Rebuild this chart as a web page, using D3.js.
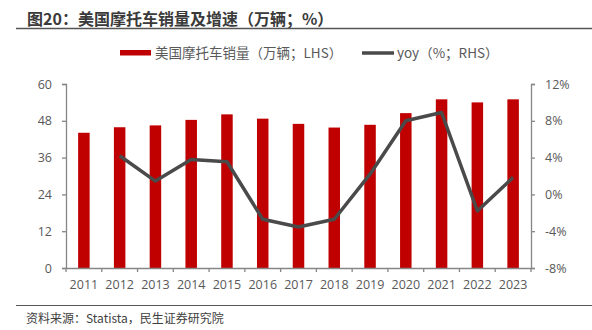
<!DOCTYPE html>
<html lang="zh">
<head>
<meta charset="UTF-8">
<title>美国摩托车销量及增速</title>
<script src="https://d3js.org/d3.v7.min.js"></script>
<style>
  body { margin: 0; background: #fff; }
  svg text { font-family: "Noto Sans CJK SC", "Open Sans", sans-serif; }
</style>
</head>
<body>
<div id="chart"></div>
<script>
// years, sales (10k units) and year-over-year growth (%)
const years = ["2011", "2012", "2013", "2014", "2015", "2016", "2017", "2018", "2019", "2020", "2021", "2022", "2023"];
const sales = [44.1, 45.9, 46.5, 48.3, 50.1, 48.7, 47.0, 45.8, 46.7, 50.5, 55.0, 54.0, 55.0];
const yoy = [null, 4.2, 1.45, 3.8, 3.55, -2.7, -3.55, -2.7, 2.2, 8.0, 8.9, -1.8, 1.85];
const leftTicks = [0, 12, 24, 36, 48, 60];
const rightTicks = [-8, -4, 0, 4, 8, 12];

const W = 592, H = 330;
const margin = { left: 66, right: 61, top: 84, bottom: 62 };
const axisColor = "#868686", labelColor = "#595959";

const svg = d3.select("#chart").append("svg")
    .attr("width", W)
    .attr("height", H);

// title and rules
svg.append("text")
    .attr("x", 27).attr("y", 25)
    .attr("font-size", 16).attr("font-weight", "bold").attr("fill", "#3a3a3a")
    .text("图20：美国摩托车销量及增速（万辆；%）");
svg.append("line")
    .attr("x1", 16).attr("x2", W).attr("y1", 28.5).attr("y2", 28.5)
    .attr("stroke", "#555").attr("stroke-width", 1.5);
svg.append("line")
    .attr("x1", 16).attr("x2", W).attr("y1", 305.5).attr("y2", 305.5)
    .attr("stroke", "#555").attr("stroke-width", 1.2);
svg.append("text")
    .attr("x", 26).attr("y", 323)
    .attr("font-size", 12).attr("fill", "#404040")
    .text("资料来源：Statista，民生证券研究院");

const x = d3.scaleBand()
    .domain(years)
    .range([margin.left, W - margin.right]);
const yL = d3.scaleLinear().domain([0, 60]).range([H - margin.bottom, margin.top]);
const yR = d3.scaleLinear().domain([-8, 12]).range([H - margin.bottom, margin.top]);

const barW = 11.5;

// bars
svg.append("g").selectAll("rect")
    .data(sales)
    .join("rect")
    .attr("x", (d, i) => x(years[i]) + x.bandwidth() / 2 - barW / 2)
    .attr("y", d => yL(d))
    .attr("width", barW)
    .attr("height", d => yL(0) - yL(d))
    .attr("fill", "#c00000");

// axes
function styleAxis(g) {
    g.selectAll("path, line").attr("stroke", axisColor).attr("stroke-width", 1.3);
    g.selectAll("text").attr("fill", labelColor).attr("font-size", 12.5)
        .style("font-family", "'Open Sans', sans-serif");
}

svg.append("g")
    .attr("transform", `translate(${margin.left},0)`)
    .call(d3.axisLeft(yL).tickValues(leftTicks).tickSize(4).tickSizeOuter(4).tickPadding(10))
    .call(styleAxis);

svg.append("g")
    .attr("transform", `translate(${W - margin.right},0)`)
    .call(d3.axisRight(yR).tickValues(rightTicks).tickSize(4).tickSizeOuter(4).tickPadding(10)
        .tickFormat(d => d + "%"))
    .call(styleAxis);

const xAxis = svg.append("g")
    .attr("transform", `translate(0,${H - margin.bottom})`)
    .call(d3.axisBottom(x).tickSize(0).tickPadding(12))
    .call(styleAxis);

// ticks on category boundaries
xAxis.selectAll(".bound")
    .data(d3.range(years.length + 1))
    .join("line")
    .attr("class", "bound")
    .attr("x1", i => margin.left + i * x.step())
    .attr("x2", i => margin.left + i * x.step())
    .attr("y1", 0).attr("y2", 4)
    .attr("stroke", axisColor).attr("stroke-width", 1.3);

// growth line
const line = d3.line()
    .defined(d => d != null)
    .x((d, i) => x(years[i]) + x.bandwidth() / 2)
    .y(d => yR(d));

svg.append("path")
    .datum(yoy)
    .attr("d", line)
    .attr("fill", "none")
    .attr("stroke", "#4a4a4a")
    .attr("stroke-width", 3.5)
    .attr("stroke-linejoin", "round");

// legend
const legend = svg.append("g").attr("font-size", 13.5).attr("fill", labelColor);
legend.append("rect")
    .attr("x", 120).attr("y", 50).attr("width", 31).attr("height", 5.5)
    .attr("fill", "#c00000");
legend.append("text")
    .attr("x", 155).attr("y", 57.5)
    .attr("fill", labelColor)
    .text("美国摩托车销量（万辆；LHS）");
legend.append("line")
    .attr("x1", 362).attr("x2", 394).attr("y1", 53).attr("y2", 53)
    .attr("stroke", "#4a4a4a").attr("stroke-width", 3.5);
legend.append("text")
    .attr("x", 397).attr("y", 57.5)
    .attr("fill", labelColor)
    .text("yoy（%；RHS）");
</script>
</body>
</html>
